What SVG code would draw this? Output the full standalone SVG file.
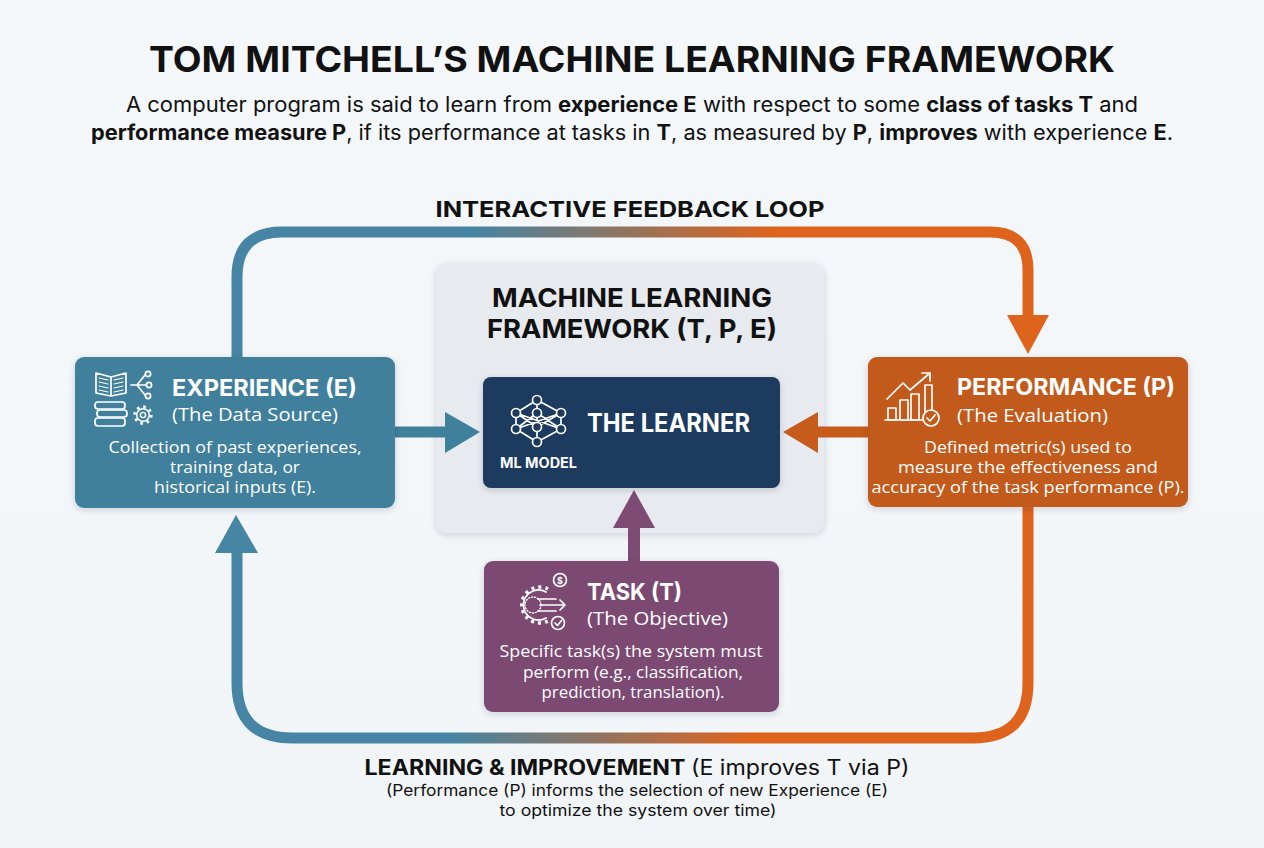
<svg xmlns="http://www.w3.org/2000/svg" width="1264" height="848" viewBox="0 0 1264 848">
<style>
.h{font-family:Inter,"Liberation Sans","DejaVu Sans",sans-serif;font-weight:700}
.r{font-family:Inter,"Liberation Sans","DejaVu Sans",sans-serif;font-weight:400}
.b{font-family:"Open Sans","Noto Sans","Liberation Sans",sans-serif;font-weight:400}
.d{font-family:"Open Sans","Noto Sans","Liberation Sans",sans-serif;font-weight:400;font-size:16px;fill:#ffffff;text-anchor:middle}
.w{fill:#ffffff}
.k{fill:#111111}
.ic{fill:none;stroke:#ffffff;stroke-width:1.7;stroke-linecap:round;stroke-linejoin:round}
.loop{fill:none;stroke-width:11;stroke-linecap:butt;stroke-linejoin:round}
</style>
<defs>
<linearGradient id="bg" x1="0" y1="0" x2="0" y2="1">
<stop offset="0" stop-color="#f5f8fb"/>
<stop offset="1" stop-color="#f1f5f8"/>
</linearGradient>
<linearGradient id="gTop" gradientUnits="userSpaceOnUse" x1="237" y1="0" x2="1028" y2="0">
<stop offset="0" stop-color="#4685a3"/>
<stop offset="0.3" stop-color="#4685a3"/>
<stop offset="0.68" stop-color="#de631d"/>
<stop offset="1" stop-color="#de631d"/>
</linearGradient>
<linearGradient id="gBot" gradientUnits="userSpaceOnUse" x1="237" y1="0" x2="1028" y2="0">
<stop offset="0" stop-color="#4685a3"/>
<stop offset="0.27" stop-color="#4685a3"/>
<stop offset="0.65" stop-color="#de631d"/>
<stop offset="1" stop-color="#de631d"/>
</linearGradient>
<filter id="sh" x="-10%" y="-10%" width="120%" height="130%">
<feDropShadow dx="0" dy="2" stdDeviation="3" flood-color="#1a2a3a" flood-opacity="0.18"/>
</filter>
</defs>

<rect x="0" y="0" width="1264" height="848" fill="url(#bg)"/>

<g id="title">
<text class="h k" x="632" y="72" font-size="36" text-anchor="middle" textLength="966" lengthAdjust="spacingAndGlyphs">TOM MITCHELL’S MACHINE LEARNING FRAMEWORK</text>
<text class="r k" x="632" y="112" font-size="21" text-anchor="middle" textLength="1012" lengthAdjust="spacingAndGlyphs">A computer program is said to learn from <tspan font-weight="700">experience E</tspan> with respect to some <tspan font-weight="700">class of tasks T</tspan> and</text>
<text class="r k" x="632" y="140" font-size="21" text-anchor="middle" textLength="1082" lengthAdjust="spacingAndGlyphs"><tspan font-weight="700">performance measure P</tspan>, if its performance at tasks in <tspan font-weight="700">T</tspan>, as measured by <tspan font-weight="700">P</tspan>, <tspan font-weight="700">improves</tspan> with experience <tspan font-weight="700">E</tspan>.</text>
</g>

<g id="framework">
<rect x="436" y="263" width="388" height="270" rx="12" fill="#e7eaee" filter="url(#sh)"/>
<text class="h k" x="632" y="307" font-size="26" text-anchor="middle" textLength="280" lengthAdjust="spacingAndGlyphs">MACHINE LEARNING</text>
<text class="h k" x="632" y="338" font-size="26" text-anchor="middle" textLength="290" lengthAdjust="spacingAndGlyphs">FRAMEWORK (T, P, E)</text>
</g>

<g id="connectors">
<path class="loop" stroke="url(#gTop)" d="M237 357 L237 277 Q237 232 282 232 L990 232 Q1028 232 1028 270 L1028 318"/>
<polygon points="1007,315 1049,315 1028,354" fill="#de631d"/>
<path class="loop" stroke="url(#gBot)" d="M1028 507 L1028 683 Q1028 738 973 738 L292 738 Q237 738 237 683 L237 550"/>
<polygon points="215,553 258,553 236,515" fill="#4685a3"/>
<line x1="395" y1="432" x2="447" y2="432" stroke="#3f809c" stroke-width="11"/>
<polygon points="445,412 480,432 445,453" fill="#3f809c"/>
<line x1="868" y1="432" x2="816" y2="432" stroke="#c65b1c" stroke-width="11"/>
<polygon points="818,412 783,432 818,453" fill="#c65b1c"/>
<line x1="634" y1="561" x2="634" y2="525" stroke="#7d4b73" stroke-width="12"/>
<polygon points="613,528 634,490 655,528" fill="#7d4b73"/>
</g>

<g id="learner">
<rect x="483" y="377" width="297" height="111" rx="8" fill="#1c3a5e" filter="url(#sh)"/>
<g class="ic" stroke-width="1.4">
<path d="M537 400 L516 413 M537 400 L537 413 M537 400 L561 413 M516 413 L537 427 M516 413 L561 429 M537 413 L516 429 M537 413 L561 429 M561 413 L537 427 M561 413 L516 429 M516 429 L537 442 M537 427 L537 442 M561 429 L537 442 M516 413 L516 429 M561 413 L561 429 M537 413 L537 427"/>
<circle cx="537" cy="400" r="4.5" fill="#1c3a5e"/>
<circle cx="516" cy="413" r="4.5" fill="#1c3a5e"/>
<circle cx="537" cy="413" r="4.5" fill="#1c3a5e"/>
<circle cx="561" cy="413" r="4.5" fill="#1c3a5e"/>
<circle cx="516" cy="429" r="4.5" fill="#1c3a5e"/>
<circle cx="537" cy="427" r="4.5" fill="#1c3a5e"/>
<circle cx="561" cy="429" r="4.5" fill="#1c3a5e"/>
<circle cx="537" cy="442" r="4.5" fill="#1c3a5e"/>
</g>
<text class="h w" x="587" y="432" font-size="25" textLength="163" lengthAdjust="spacingAndGlyphs">THE LEARNER</text>
<text class="h w" x="500" y="468" font-size="14" textLength="77" lengthAdjust="spacingAndGlyphs">ML MODEL</text>
</g>

<g id="experience">
<rect x="75" y="357" width="320" height="151" rx="9" fill="#3f809c" filter="url(#sh)"/>
<g class="ic">
<path d="M111 377 L96 373 L96 393 L111 396 Z M111 377 L126 373 L126 393 L111 396 Z"/>
<path d="M99 378 L108 380 M99 382 L108 384 M99 386 L108 388 M99 390 L108 392 M114 380 L123 378 M114 384 L123 382 M114 388 L123 386 M114 392 L123 390" stroke-width="1.2"/>
<path d="M131 385 L137 385 M137 385 L145 375 M137 385 L146 385 M137 385 L145 395"/>
<circle cx="148" cy="374" r="2.6"/>
<circle cx="149" cy="385" r="2.6"/>
<circle cx="148" cy="396" r="2.6"/>
<rect x="95" y="402" width="30" height="7" rx="3"/>
<rect x="97" y="410" width="30" height="7" rx="3"/>
<rect x="95" y="418" width="30" height="8" rx="3"/>
<circle cx="143" cy="415" r="6.3" stroke-width="1.5"/>
<circle cx="143" cy="415" r="8.2" stroke-width="3" stroke-dasharray="2.6 3.84" stroke-linecap="butt"/>
<circle cx="143" cy="415" r="2.6" stroke-width="1.4"/>
</g>
<text class="h w" x="172" y="396" font-size="23" textLength="185" lengthAdjust="spacingAndGlyphs">EXPERIENCE (E)</text>
<text class="b w" x="172" y="421" font-size="19" textLength="166" lengthAdjust="spacingAndGlyphs">(The Data Source)</text>
<text class="d" x="235" y="453" textLength="253" lengthAdjust="spacingAndGlyphs">Collection of past experiences,</text>
<text class="d" x="235" y="473" textLength="130" lengthAdjust="spacingAndGlyphs">training data, or</text>
<text class="d" x="235" y="493" textLength="162" lengthAdjust="spacingAndGlyphs">historical inputs (E).</text>
</g>

<g id="performance">
<rect x="868" y="357" width="320" height="150" rx="9" fill="#c25a1c" filter="url(#sh)"/>
<g class="ic">
<path d="M885 420 L923 420"/>
<rect x="888" y="408" width="8" height="12"/>
<rect x="900" y="400" width="8" height="20"/>
<rect x="911" y="394" width="8" height="26"/>
<path d="M925 412 L925 385 L932 385 L932 410"/>
<path d="M887 399 L903 383 L910 390 L930 373"/>
<path d="M922 373 L930 373 L930 381"/>
<circle cx="931" cy="418" r="8" fill="#c25a1c"/>
<path d="M927 418 L930 421 L935 415"/>
</g>
<text class="h w" x="957" y="395" font-size="23" textLength="218" lengthAdjust="spacingAndGlyphs">PERFORMANCE (P)</text>
<text class="b w" x="957" y="422" font-size="19" textLength="151" lengthAdjust="spacingAndGlyphs">(The Evaluation)</text>
<text class="d" x="1028" y="453" textLength="208" lengthAdjust="spacingAndGlyphs">Defined metric(s) used to</text>
<text class="d" x="1028" y="473" textLength="260" lengthAdjust="spacingAndGlyphs">measure the effectiveness and</text>
<text class="d" x="1028" y="493" textLength="313" lengthAdjust="spacingAndGlyphs">accuracy of the task performance (P).</text>
</g>

<g id="task">
<rect x="484" y="561" width="295" height="151" rx="9" fill="#7b4a72" filter="url(#sh)"/>
<g class="ic">
<path d="M546 592 A15 15 0 1 0 546 618"/>
<path d="M548 589 A18 18 0 1 0 548 621" stroke-width="3.4" stroke-dasharray="3 4" stroke-linecap="butt"/>
<circle cx="533" cy="605" r="8" stroke-width="1.3" stroke-dasharray="1.2 1.8"/>
<path d="M538 599 L556 599 M540 605 L565 605 M538 611 L556 611 M560 600 L565 605 L560 610"/>
<circle cx="560" cy="580" r="6.5"/>
<circle cx="558" cy="623" r="6.5"/>
<path d="M555 623 L557.5 625.5 L561.5 620.5"/>
</g>
<text class="h w" x="560" y="583.5" font-size="9" text-anchor="middle">$</text>
<text class="h w" x="587" y="600" font-size="23" textLength="95" lengthAdjust="spacingAndGlyphs">TASK (T)</text>
<text class="b w" x="587" y="625" font-size="19" textLength="141" lengthAdjust="spacingAndGlyphs">(The Objective)</text>
<text class="d" x="631" y="657" textLength="263" lengthAdjust="spacingAndGlyphs">Specific task(s) the system must</text>
<text class="d" x="633" y="678" textLength="220" lengthAdjust="spacingAndGlyphs">perform (e.g., classification,</text>
<text class="d" x="633" y="698" textLength="183" lengthAdjust="spacingAndGlyphs">prediction, translation).</text>
</g>

<g id="labels">
<text class="h k" x="630" y="217" font-size="22" text-anchor="middle" textLength="389" lengthAdjust="spacingAndGlyphs">INTERACTIVE FEEDBACK LOOP</text>
<text class="h k" x="637" y="775" font-size="21" text-anchor="middle" textLength="545" lengthAdjust="spacingAndGlyphs">LEARNING &amp; IMPROVEMENT <tspan font-weight="400">(E improves T via P)</tspan></text>
<text class="r k" x="637" y="796" font-size="16" text-anchor="middle" textLength="502" lengthAdjust="spacingAndGlyphs">(Performance (P) informs the selection of new Experience (E)</text>
<text class="r k" x="638" y="816" font-size="16" text-anchor="middle" textLength="277" lengthAdjust="spacingAndGlyphs">to optimize the system over time)</text>
</g>
</svg>
